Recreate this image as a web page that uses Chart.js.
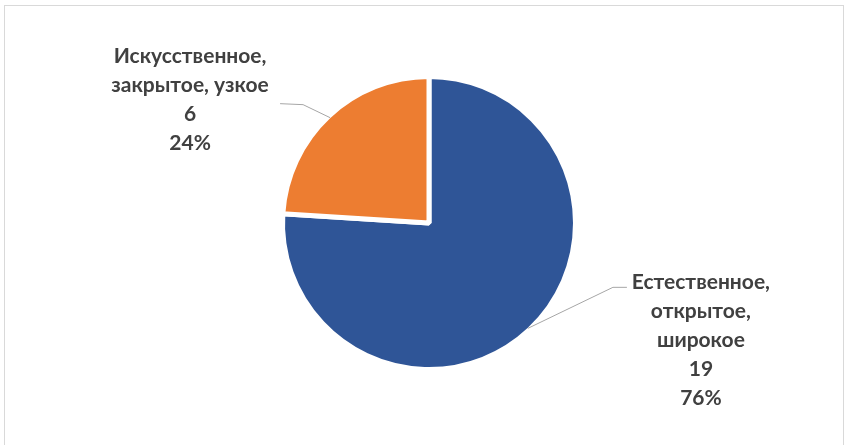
<!DOCTYPE html>
<html>
<head>
<meta charset="utf-8">
<script src="https://cdn.jsdelivr.net/npm/chart.js@4"></script>
<style>
  html, body { margin: 0; padding: 0; background: #fff; }
  #wrap { position: relative; width: 846px; height: 445px; }
  #frame {
    position: absolute; left: 4px; top: 5px; width: 840px; height: 440px;
    border: 1px solid #d9d9d9; border-bottom: none; box-sizing: border-box;
  }
  canvas { position: absolute; left: 0; top: 0; }
</style>
</head>
<body>
<div id="wrap">
  <div id="frame"></div>
  <canvas id="chart-pie" width="846" height="445"></canvas>
</div>
<script>
// data
var categories = [
  ["Естественное,", "открытое,", "широкое"],
  ["Искусственное,", "закрытое, узкое"]
];
var seriesValues = [19, 6];
var sliceColors = ["#2f5597", "#ed7d31"];

// where each callout sits, relative to the point on the slice edge
var callouts = [
  { elbow: [85, -41], tail: [99, -41], text: [173, -46] },
  { elbow: [-27, -13], tail: [-50, -14], text: [-140, -61] }
];

var calloutLabels = {
  id: "calloutLabels",
  afterDatasetsDraw: function (chart) {
    var ctx = chart.ctx;
    var meta = chart.getDatasetMeta(0);
    var total = seriesValues.reduce(function (a, b) { return a + b; }, 0);
    meta.data.forEach(function (arc, i) {
      var p = arc.getProps(["x", "y", "startAngle", "endAngle", "outerRadius"], true);
      var mid = (p.startAngle + p.endAngle) / 2;
      var ax = p.x + Math.cos(mid) * (p.outerRadius - 2);
      var ay = p.y + Math.sin(mid) * (p.outerRadius - 2);
      var c = callouts[i];
      ctx.save();
      ctx.strokeStyle = "#a6a6a6";
      ctx.lineWidth = 1;
      ctx.beginPath();
      ctx.moveTo(ax, ay);
      ctx.lineTo(ax + c.elbow[0], ay + c.elbow[1]);
      ctx.lineTo(ax + c.tail[0], ay + c.tail[1]);
      ctx.stroke();
      var lines = categories[i].concat([
        String(seriesValues[i]),
        Math.round(seriesValues[i] / total * 100) + "%"
      ]);
      ctx.font = "bold 21px Lato";
      ctx.fillStyle = "#404040";
      ctx.textAlign = "center";
      ctx.textBaseline = "middle";
      lines.forEach(function (t, k) {
        ctx.fillText(t, ax + c.text[0], ay + c.text[1] + k * 29);
      });
      ctx.restore();
    });
  }
};

var ctx = document.getElementById("chart-pie").getContext("2d");
new Chart(ctx, {
  type: "pie",
  data: {
    labels: categories,
    datasets: [{
      data: seriesValues,
      backgroundColor: sliceColors,
      borderColor: "#ffffff",
      borderWidth: 5,
      hoverBorderWidth: 5,
      hoverOffset: 0
    }]
  },
  options: {
    responsive: false,
    animation: false,
    events: [],
    layout: {
      padding: { left: 280, right: 268, top: 74, bottom: 73 }
    },
    plugins: {
      legend: { display: false },
      tooltip: { enabled: false }
    }
  },
  plugins: [calloutLabels]
});
</script>
</body>
</html>
